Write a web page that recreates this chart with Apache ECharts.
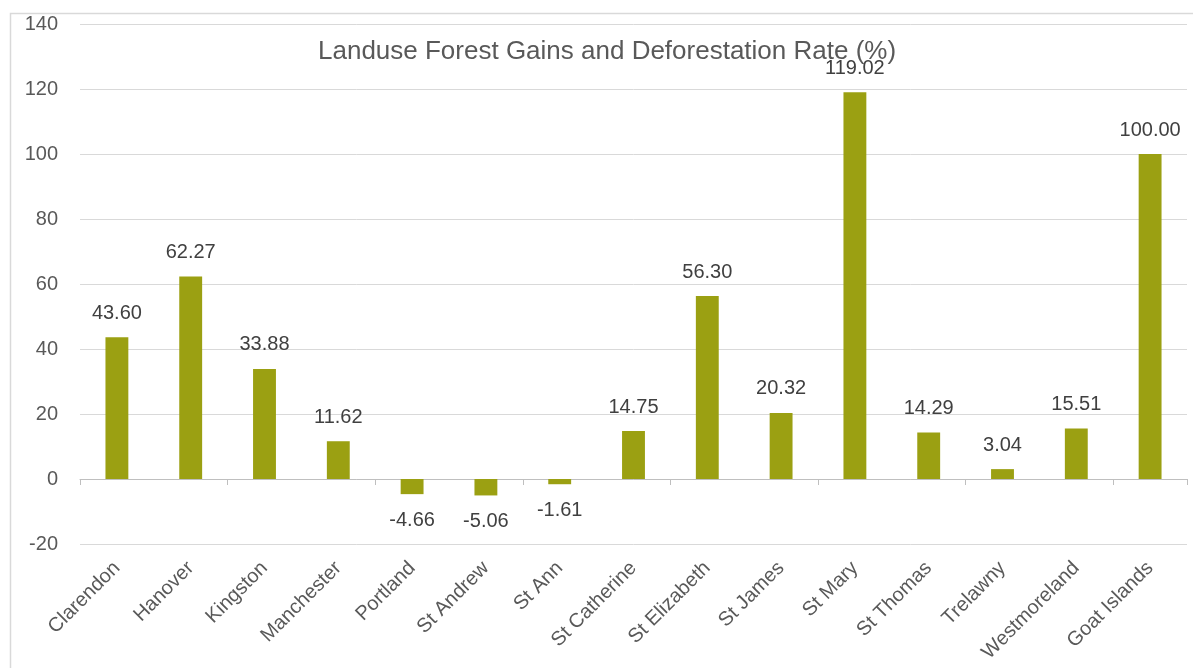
<!DOCTYPE html>
<html>
<head>
<meta charset="utf-8">
<style>
  html, body { margin: 0; padding: 0; background: #ffffff; }
  #chart { width: 1193px; height: 668px; }
</style>
<script src="https://cdn.jsdelivr.net/npm/echarts@6/dist/echarts.min.js"></script>
</head>
<body>
<div id="chart"></div>
<script>
// Parishes and their forest gain / deforestation rate (%)
const parishes = ['Clarendon', 'Hanover', 'Kingston', 'Manchester', 'Portland', 'St Andrew', 'St Ann',
  'St Catherine', 'St Elizabeth', 'St James', 'St Mary', 'St Thomas', 'Trelawny', 'Westmoreland', 'Goat Islands'];
const rates = [43.60, 62.27, 33.88, 11.62, -4.66, -5.06, -1.61, 14.75, 56.30, 20.32, 119.02, 14.29, 3.04, 15.51, 100.00];
const yTicks = { min: -20, max: 140, step: 20 };
const chartTitle = 'Landuse Forest Gains and Deforestation Rate (%)';

const barColor = '#9BA012';
const labelFont = 'Liberation Sans, Arial, sans-serif';

const chart = echarts.init(document.getElementById('chart'), null, { renderer: 'canvas' });

chart.setOption({
  animation: false,
  backgroundColor: '#ffffff',
  title: {
    text: chartTitle,
    left: 313,
    top: 34,
    textStyle: {
      fontFamily: labelFont,
      fontWeight: 'normal',
      fontSize: 26,
      color: '#595959'
    }
  },
  graphic: [{
    type: 'rect',
    left: 8,
    top: 11,
    shape: { width: 1200, height: 700 },
    style: { fill: 'none', stroke: '#D9D9D9', lineWidth: 1.5 },
    silent: true,
    z: -1
  }],
  grid: { left: 80, right: 6, top: 24, bottom: 124 },
  xAxis: [{
    type: 'category',
    data: parishes,
    axisLine: { onZero: true, lineStyle: { color: '#BFBFBF', width: 1 } },
    axisTick: { show: true, length: 6, lineStyle: { color: '#BFBFBF' } },
    axisLabel: { show: false }
  }, {
    type: 'category',
    data: parishes,
    position: 'bottom',
    axisLine: { show: false, onZero: false },
    axisTick: { show: false },
    axisLabel: {
      rotate: 45,
      margin: 21,
      interval: 0,
      fontFamily: labelFont,
      fontSize: 20,
      color: '#595959'
    }
  }],
  yAxis: {
    type: 'value',
    min: yTicks.min,
    max: yTicks.max,
    interval: yTicks.step,
    axisLine: { show: false },
    axisTick: { show: false },
    splitLine: { lineStyle: { color: '#D9D9D9', width: 1 } },
    axisLabel: {
      margin: 22,
      fontFamily: labelFont,
      fontSize: 20,
      color: '#595959'
    }
  },
  series: [{
    type: 'bar',
    xAxisIndex: 0,
    barWidth: '31%',
    itemStyle: { color: barColor },
    data: rates.map(v => ({
      value: v,
      label: {
        show: true,
        position: v < 0 ? 'bottom' : 'top',
        distance: v < 0 ? 16 : 14,
        formatter: p => p.value.toFixed(2),
        fontFamily: labelFont,
        fontSize: 20,
        color: '#404040'
      }
    }))
  }]
});
</script>
</body>
</html>
